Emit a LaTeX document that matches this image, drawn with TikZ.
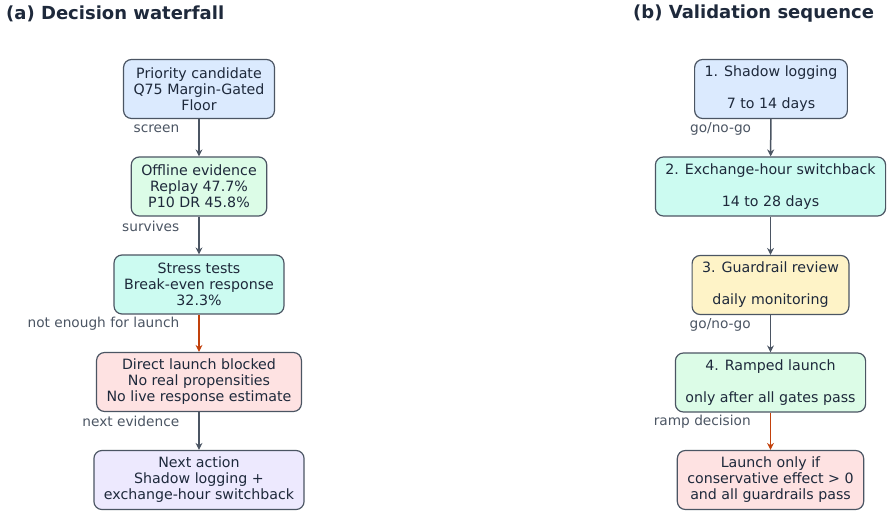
\documentclass[tikz,border=0pt]{standalone}
\usepackage{fontspec}
\setmainfont{DejaVu Sans}
\usetikzlibrary{arrows.meta,positioning}

\definecolor{ink}{HTML}{1E293B}
\definecolor{slate}{HTML}{4B5563}
\definecolor{warn}{HTML}{C2410C}
\definecolor{fillblue}{HTML}{DBEAFE}
\definecolor{fillgreen}{HTML}{DCFCE7}
\definecolor{fillteal}{HTML}{CCFBF1}
\definecolor{fillred}{HTML}{FEE2E2}
\definecolor{fillviolet}{HTML}{EDE9FE}
\definecolor{fillamber}{HTML}{FEF3C7}

\tikzset{
  box/.style={draw=slate, line width=1.2pt, rounded corners=8pt, align=center,
    text=ink, font=\fontsize{14.2}{16}\selectfont, inner xsep=10pt,
    inner ysep=5pt, minimum height=59pt},
  flow/.style={-{Stealth[length=7pt,width=7pt]}, draw=slate, line width=1.5pt},
  blocked/.style={flow, draw=warn},
  lbl/.style={text=slate, font=\fontsize{13.7}{16}\selectfont, inner sep=0pt,
    anchor=east, at start, xshift=-19pt, yshift=-9.5pt},
  paneltitle/.style={font=\bfseries\fontsize{18}{20}\selectfont, text=ink,
    anchor=west, inner sep=0pt}
}

\begin{document}
\begin{tikzpicture}[x=1pt,y=-1pt]
  \useasboundingbox (0,0) rectangle (891,518);
  % Panel titles
  \node[paneltitle] (ta) at (6,14) {(a) Decision waterfall};
  \node[paneltitle] (tb) at (633,14) {(b) Validation sequence};

  % (a) Decision waterfall
  \node[box, fill=fillblue] (cand) at (199,89) {Priority candidate\\Q75 Margin-Gated\\Floor};
  \node[box, fill=fillgreen] (offline) at (199,186.5) {Offline evidence\\Replay 47.7\%\\P10 DR 45.8\%};
  \node[box, fill=fillteal] (stress) at (199,284.5) {Stress tests\\Break-even response\\32.3\%};
  \node[box, fill=fillred] (blockd) at (199,382) {Direct launch blocked\\No real propensities\\No live response estimate};
  \node[box, fill=fillviolet] (next) at (199,480) {Next action\\Shadow logging +\\exchange-hour switchback};

  \draw[flow] (cand) -- node[lbl] {screen} (offline);
  \draw[flow] (offline) -- node[lbl] {survives} (stress);
  \draw[blocked] (stress) -- node[lbl] {not enough for launch} (blockd);
  \draw[flow] (blockd) -- node[lbl] {next evidence} (next);

  % (b) Validation sequence
  \node[box, fill=fillblue] (shadow) at (771,89) {1. Shadow logging\\\mbox{}\\7 to 14 days};
  \node[box, fill=fillteal] (switch) at (770.5,186.5) {2. Exchange-hour switchback\\\mbox{}\\14 to 28 days};
  \node[box, fill=fillamber] (guard) at (770.5,285) {3. Guardrail review\\\mbox{}\\daily monitoring};
  \node[box, fill=fillgreen] (ramp) at (770.5,382.5) {4. Ramped launch\\\mbox{}\\only after all gates pass};
  \node[box, fill=fillred] (launch) at (770.5,480) {Launch only if\\conservative effect > 0\\and all guardrails pass};

  \draw[flow] (shadow) -- node[lbl] {go/no-go} (switch);
  \draw[flow] (switch) -- (guard);
  \draw[flow] (guard) -- node[lbl] {go/no-go} (ramp);
  \draw[blocked] (ramp) -- node[lbl] {ramp decision} (launch);
\end{tikzpicture}
\end{document}
